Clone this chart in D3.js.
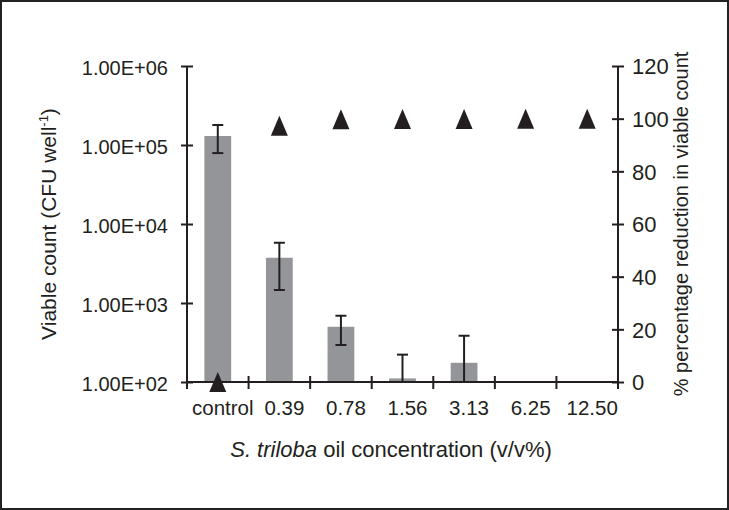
<!DOCTYPE html>
<html>
<head>
<meta charset="utf-8">
<script src="https://cdn.jsdelivr.net/npm/d3@7"></script>
<style>
  html, body { margin: 0; padding: 0; background: #fff; }
  svg { display: block; }
  text { font-family: "Liberation Sans", Arial, sans-serif; fill: #231f20; }
</style>
</head>
<body>
<svg id="chart" width="729" height="510"></svg>
<script>
// ---- data ----
const categories = ["control", "0.39", "0.78", "1.56", "3.13", "6.25", "12.50"];
const viableCount = [130000, 3740, 500, 111, 175, null, null];
const errHigh = [179000, 5790, 690, 222, 385, null, null];
const errLow = [79000, 1460, 294, 100, 100, null, null];
const reduction = [0, 97.3, 99.8, 99.9, 99.9, 100, 100];
const leftTicks = [1e2, 1e3, 1e4, 1e5, 1e6];
const leftTickLabels = ["1.00E+02", "1.00E+03", "1.00E+04", "1.00E+05", "1.00E+06"];
const rightTicks = [0, 20, 40, 60, 80, 100, 120];

const svg = d3.select("#chart");
const W = 729, H = 510;
const plot = { left: 187, right: 618, top: 66, bottom: 382 };
const ink = "#231f20";
const font = "'Liberation Sans', Arial, sans-serif";

// frame
svg.append("rect").attr("x", 1).attr("y", 1).attr("width", W - 2).attr("height", H - 2)
  .attr("fill", "#fff").attr("stroke", "#222").attr("stroke-width", 2);

const x = d3.scaleBand().domain(categories).range([plot.left, plot.right]).padding(0);
const yL = d3.scaleLog().domain([1e2, 1e6]).range([plot.bottom, plot.top]);
const yR = d3.scaleLinear().domain([0, 120]).range([plot.bottom, plot.top]);
const barW = x.bandwidth() * 0.435;

// bars
svg.append("g").selectAll("rect")
  .data(categories.map((c, i) => ({ c, v: viableCount[i] })).filter(d => d.v != null))
  .join("rect")
  .attr("x", d => x(d.c) + x.bandwidth() / 2 - barW / 2)
  .attr("width", barW)
  .attr("y", d => yL(d.v))
  .attr("height", d => plot.bottom - yL(d.v))
  .attr("fill", "#949599");

// error bars
const eb = categories.map((c, i) => ({ c, hi: errHigh[i], lo: errLow[i] })).filter(d => d.hi != null);
const ebG = svg.append("g").attr("stroke", ink).attr("stroke-width", 2);
eb.forEach(d => {
  const cx = x(d.c) + x.bandwidth() / 2;
  const lo = Math.max(d.lo, 100);
  ebG.append("line").attr("x1", cx).attr("x2", cx).attr("y1", yL(d.hi)).attr("y2", yL(lo));
  ebG.append("line").attr("x1", cx - 5.5).attr("x2", cx + 5.5).attr("y1", yL(d.hi)).attr("y2", yL(d.hi));
  if (d.lo > 100) ebG.append("line").attr("x1", cx - 5.5).attr("x2", cx + 5.5).attr("y1", yL(d.lo)).attr("y2", yL(d.lo));
});

// left axis
const axL = svg.append("g").attr("transform", `translate(${plot.left},0)`)
  .call(d3.axisLeft(yL).tickValues(leftTicks).tickFormat((d, i) => leftTickLabels[i]).tickSize(6).tickPadding(13));
axL.select(".domain").remove();
axL.append("line").attr("x1", 0).attr("x2", 0).attr("y1", plot.top).attr("y2", plot.bottom + 7)
  .attr("stroke", ink).attr("stroke-width", 2);
axL.selectAll(".tick line").attr("x1", -6).attr("x2", 6).attr("stroke", ink).attr("stroke-width", 2);
axL.selectAll(".tick text").attr("font-size", 20).attr("dy", "0.42em").style("fill", ink)
  .attr("font-family", font);

// right axis
const axR = svg.append("g").attr("transform", `translate(${plot.right},0)`)
  .call(d3.axisRight(yR).tickValues(rightTicks).tickSize(6).tickPadding(8));
axR.select(".domain").remove();
axR.append("line").attr("x1", 0).attr("x2", 0).attr("y1", plot.top).attr("y2", plot.bottom + 7)
  .attr("stroke", ink).attr("stroke-width", 2);
axR.selectAll(".tick line").attr("x1", -6).attr("x2", 6).attr("stroke", ink).attr("stroke-width", 2);
axR.selectAll(".tick text").attr("font-size", 22).attr("dy", "0.36em").style("fill", ink)
  .attr("font-family", font);

// bottom axis
const axB = svg.append("g").attr("transform", `translate(0,${plot.bottom})`)
  .call(d3.axisBottom(x).tickSize(0).tickPadding(18));
axB.select(".domain").remove();
axB.append("line").attr("x1", plot.left).attr("x2", plot.right).attr("y1", 0).attr("y2", 0)
  .attr("stroke", ink).attr("stroke-width", 2);
axB.selectAll(".tick text").attr("font-size", 20.5).attr("dx", 5).style("fill", ink)
  .attr("font-family", font);
const bounds = categories.map(c => x(c)).concat([x(categories[categories.length - 1]) + x.bandwidth()]);
axB.selectAll(".bound").data(bounds.slice(1, -1)).join("line")
  .attr("x1", d => d).attr("x2", d => d).attr("y1", -6).attr("y2", 7)
  .attr("stroke", ink).attr("stroke-width", 2);

// triangles (% reduction)
const tri = { draw(ctx) { ctx.moveTo(0, -10); ctx.lineTo(8.5, 10); ctx.lineTo(-8.5, 10); ctx.closePath(); } };
svg.append("g").selectAll("path")
  .data(categories.map((c, i) => ({ c, v: reduction[i] })))
  .join("path")
  .attr("d", d3.symbol(tri))
  .attr("transform", d => `translate(${x(d.c) + x.bandwidth() / 2},${yR(d.v)})`)
  .attr("fill", ink);

// axis titles
const yt = svg.append("text")
  .attr("transform", `translate(56,${(plot.top + plot.bottom) / 2}) rotate(-90)`)
  .attr("text-anchor", "middle").attr("font-size", 21);
yt.append("tspan").text("Viable count (CFU well");
yt.append("tspan").text("-1").attr("font-size", 13).attr("dy", -8);
yt.append("tspan").text(")").attr("dy", 8);

svg.append("text")
  .attr("transform", `translate(688,${(plot.top + plot.bottom) / 2}) rotate(-90)`)
  .attr("text-anchor", "middle").attr("font-size", 20)
  .text("% percentage reduction in viable count");

const xt = svg.append("text").attr("x", 391).attr("y", 457)
  .attr("text-anchor", "middle").attr("font-size", 22);
xt.append("tspan").text("S. triloba").attr("font-style", "italic");
xt.append("tspan").text(" oil concentration (v/v%)");
</script>
</body>
</html>
